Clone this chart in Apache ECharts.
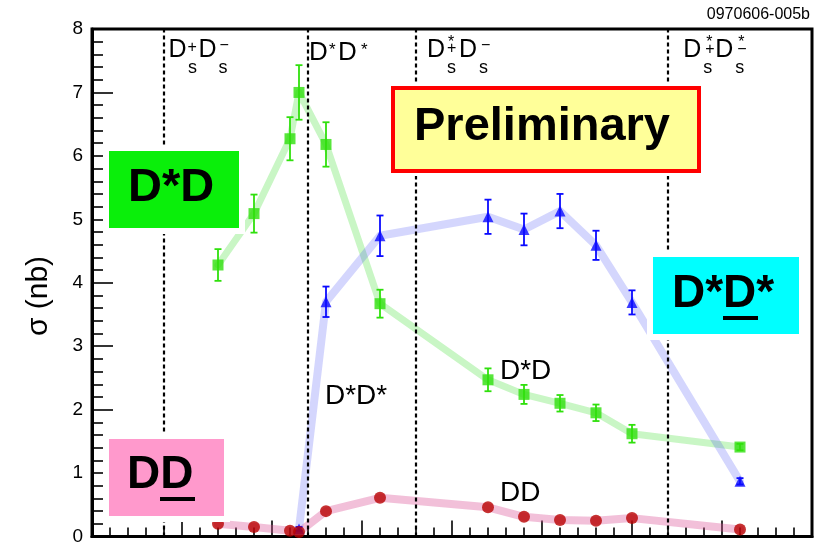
<!DOCTYPE html>
<html>
<head>
<meta charset="utf-8">
<script src="https://cdn.jsdelivr.net/npm/echarts@6/dist/echarts.min.js"></script>
<style>
  html, body { margin: 0; padding: 0; background: #fff; }
  #chart { width: 828px; height: 546px; }
</style>
</head>
<body>
<div id="chart"></div>
<script>
// Centre-of-mass energies of the scan points (GeV)
const energies = [3.970, 3.990, 4.010, 4.015, 4.030, 4.060, 4.120, 4.140, 4.160, 4.180, 4.200, 4.260];

// D*D cross sections (nb) and uncertainties
const dstarD    = [4.28, 5.09, 6.27, 7.00, 6.18, 3.67, 2.47, 2.24, 2.10, 1.95, 1.62, 1.41];
const dstarDErr = [0.25, 0.30, 0.34, 0.43, 0.35, 0.22, 0.18, 0.15, 0.13, 0.13, 0.14, 0.05];

// D*D* cross sections (nb) and uncertainties (below threshold: no point)
const dstarDstar    = [null, null, null, 0.12, 3.70, 4.74, 5.04, 4.84, 5.13, 4.59, 3.69, 0.87];
const dstarDstarErr = [null, null, null, 0.03, 0.24, 0.32, 0.27, 0.25, 0.27, 0.23, 0.19, 0.05];

// DD cross sections (nb)
const ddbar = [0.20, 0.15, 0.09, 0.07, 0.40, 0.61, 0.46, 0.31, 0.26, 0.25, 0.29, 0.11];

// Production thresholds (GeV): Ds+Ds-, D*D*, Ds*+Ds-, Ds*+Ds*-
const thresholds = [3.937, 4.0167, 4.080, 4.224];

const FONT = "'Liberation Sans', Arial, Helvetica, sans-serif";

function pairs(values) {
  return energies.map((e, i) => values[i] == null ? null : [e, values[i]]).filter(Boolean);
}

function bandLine(values, color, width) {
  return {
    type: 'line',
    data: pairs(values),
    symbol: 'none',
    lineStyle: { color: color, width: width, cap: 'round', join: 'round' },
    z: 2,
    silent: true
  };
}

function markers(values, symbol, size, color) {
  return {
    type: 'scatter',
    data: pairs(values),
    symbol: symbol,
    symbolSize: size,
    itemStyle: { color: color },
    z: 5,
    silent: true
  };
}

function errorBars(values, errors, color) {
  const data = energies
    .map((e, i) => values[i] == null ? null : [e, values[i], errors[i]])
    .filter(Boolean);
  return {
    type: 'custom',
    data: data,
    z: 4,
    silent: true,
    renderItem: function (params, api) {
      const x = api.value(0), y = api.value(1), err = api.value(2);
      const hi = api.coord([x, y + err]);
      const lo = api.coord([x, y - err]);
      const cap = 3.5;
      const style = { stroke: color, lineWidth: 1.8 };
      return {
        type: 'group',
        children: [
          { type: 'line', shape: { x1: hi[0], y1: hi[1], x2: lo[0], y2: lo[1] }, style: style },
          { type: 'line', shape: { x1: hi[0] - cap, y1: hi[1], x2: hi[0] + cap, y2: hi[1] }, style: style },
          { type: 'line', shape: { x1: lo[0] - cap, y1: lo[1], x2: lo[0] + cap, y2: lo[1] }, style: style }
        ]
      };
    }
  };
}

const GREEN = '#2fe00c';
const BLUE = '#0a0aff';
const RED = '#b80000';

const chart = echarts.init(document.getElementById('chart'), null, { renderer: 'canvas' });

const thresholdLines = bandLine(dstarD, 'rgba(100,230,90,0.35)', 7);
thresholdLines.markLine = {
  silent: true,
  symbol: ['none', 'none'],
  label: { show: false },
  lineStyle: { color: '#000', type: [4, 3], width: 2.2 },
  data: thresholds.map(v => ({ xAxis: v }))
};

chart.setOption({
  animation: false,
  backgroundColor: '#fff',
  grid: {
    left: 92, right: 16, top: 29, bottom: 3,
    show: true, borderColor: '#000', borderWidth: 3
  },
  xAxis: {
    type: 'value',
    min: 3.90, max: 4.30, interval: 0.05,
    axisLine: { lineStyle: { color: '#000', width: 3 } },
    axisTick: { inside: true, length: 16, lineStyle: { color: '#000', width: 1.6 } },
    minorTick: { show: true, splitNumber: 5, length: 9, lineStyle: { color: '#000', width: 1.6 } },
    axisLabel: { show: false },
    splitLine: { show: false }
  },
  yAxis: {
    type: 'value',
    min: 0, max: 8, interval: 1,
    axisLine: { lineStyle: { color: '#000', width: 3 } },
    axisTick: { inside: true, length: 21, lineStyle: { color: '#000', width: 1.6 } },
    minorTick: { show: true, splitNumber: 5, length: 11, lineStyle: { color: '#000', width: 1.6 } },
    axisLabel: { fontFamily: FONT, fontSize: 19, color: '#000', margin: 9 },
    splitLine: { show: false }
  },
  series: [
    thresholdLines,
    bandLine(dstarDstar, 'rgba(60,70,245,0.22)', 8),
    bandLine(ddbar, 'rgba(220,80,150,0.36)', 8),
    errorBars(dstarD, dstarDErr, GREEN),
    errorBars(dstarDstar, dstarDstarErr, BLUE),
    markers(dstarD, 'rect', 11, GREEN),
    markers(dstarDstar, 'triangle', 11, BLUE),
    markers(ddbar, 'circle', 12, RED)
  ]
});

// ---- annotations ----
const graphics = [];

function text(str, x, y, size, opts) {
  opts = opts || {};
  graphics.push({
    type: 'text',
    x: x, y: y, z: opts.z || 20,
    rotation: opts.rotation || 0,
    silent: true,
    style: {
      text: str,
      fill: '#000',
      font: (opts.bold ? 'bold ' : '') + size + 'px ' + FONT,
      align: opts.align || 'left',
      verticalAlign: 'middle'
    }
  });
}

function box(x, y, w, h, fill, opts) {
  opts = opts || {};
  const halo = opts.halo == null ? 6 : opts.halo;
  graphics.push({
    type: 'rect', z: 10, silent: true,
    shape: { x: x - halo, y: y - halo, width: w + 2 * halo, height: h + 2 * halo },
    style: { fill: '#fff' }
  });
  graphics.push({
    type: 'rect', z: 11, silent: true,
    shape: { x: x, y: y, width: w, height: h },
    style: { fill: fill, stroke: opts.stroke || null, lineWidth: opts.lineWidth || 0 }
  });
}

function underline(x, y, w) {
  graphics.push({
    type: 'rect', z: 21, silent: true,
    shape: { x: x, y: y, width: w, height: 4 },
    style: { fill: '#000' }
  });
}

// Y-axis title
text('σ (nb)', 39, 296, 30, { align: 'center', rotation: Math.PI / 2 });

// Threshold labels, placed next to each dashed line
const px = thresholds.map(v => chart.convertToPixel({ xAxisIndex: 0 }, v));

// Ds+ Ds-
(function (x0) {
  text('D', x0 + 10, 50, 25);
  text('+', x0 + 29, 48, 16);
  text('s', x0 + 29.5, 68, 18);
  text('D', x0 + 40, 50, 25);
  text('\u2212', x0 + 61, 46, 16);
  text('s', x0 + 60, 68, 18);
})(px[0]);

// D* D*
(function (x0) {
  text('D', x0 + 7, 53, 26);
  text('*', x0 + 27, 50, 17);
  text('D', x0 + 36, 53, 26);
  text('*', x0 + 59, 50, 17);
})(px[1]);

// Ds*+ Ds-
(function (x0) {
  text('D', x0 + 11, 50, 25);
  text('*', x0 + 32, 43, 16);
  text('+', x0 + 31, 49, 16);
  text('s', x0 + 31, 68, 18);
  text('D', x0 + 43, 50, 25);
  text('\u2212', x0 + 65, 46, 16);
  text('s', x0 + 63, 68, 18);
})(px[2]);

// Ds*+ Ds*-
(function (x0) {
  text('D', x0 + 8, 50, 25);
  text('*', x0 + 31, 43, 16);
  text('+', x0 + 30, 50, 16);
  text('s', x0 + 28, 68, 18);
  text('D', x0 + 40, 50, 25);
  text('*', x0 + 63, 43, 16);
  text('\u2212', x0 + 62, 50, 16);
  text('s', x0 + 60, 68, 18);
})(px[3]);

// Curve labels
text('D*D', 500, 371, 28);
text('D*D*', 325, 396, 28);
text('DD', 500, 493, 28);

// Figure identifier
text('0970606-005b', 810, 15, 16, { align: 'right' });

// Coloured legend boxes
box(109, 151, 130, 77, '#0aef0a');
text('D*D', 128, 188, 47, { bold: true });

box(393, 88, 306, 83, '#ffff99', { stroke: '#ff0000', lineWidth: 4, halo: 5 });
text('Preliminary', 542, 127, 47, { bold: true, align: 'center' });

box(653, 257, 146, 77, '#00ffff');
text('D*D*', 672, 294, 46, { bold: true });
underline(723, 316, 35);

box(109, 439, 115, 77, '#ff99cc');
text('DD', 127, 475, 46, { bold: true });
underline(160, 497, 35);

chart.setOption({ graphic: graphics });
</script>
</body>
</html>
